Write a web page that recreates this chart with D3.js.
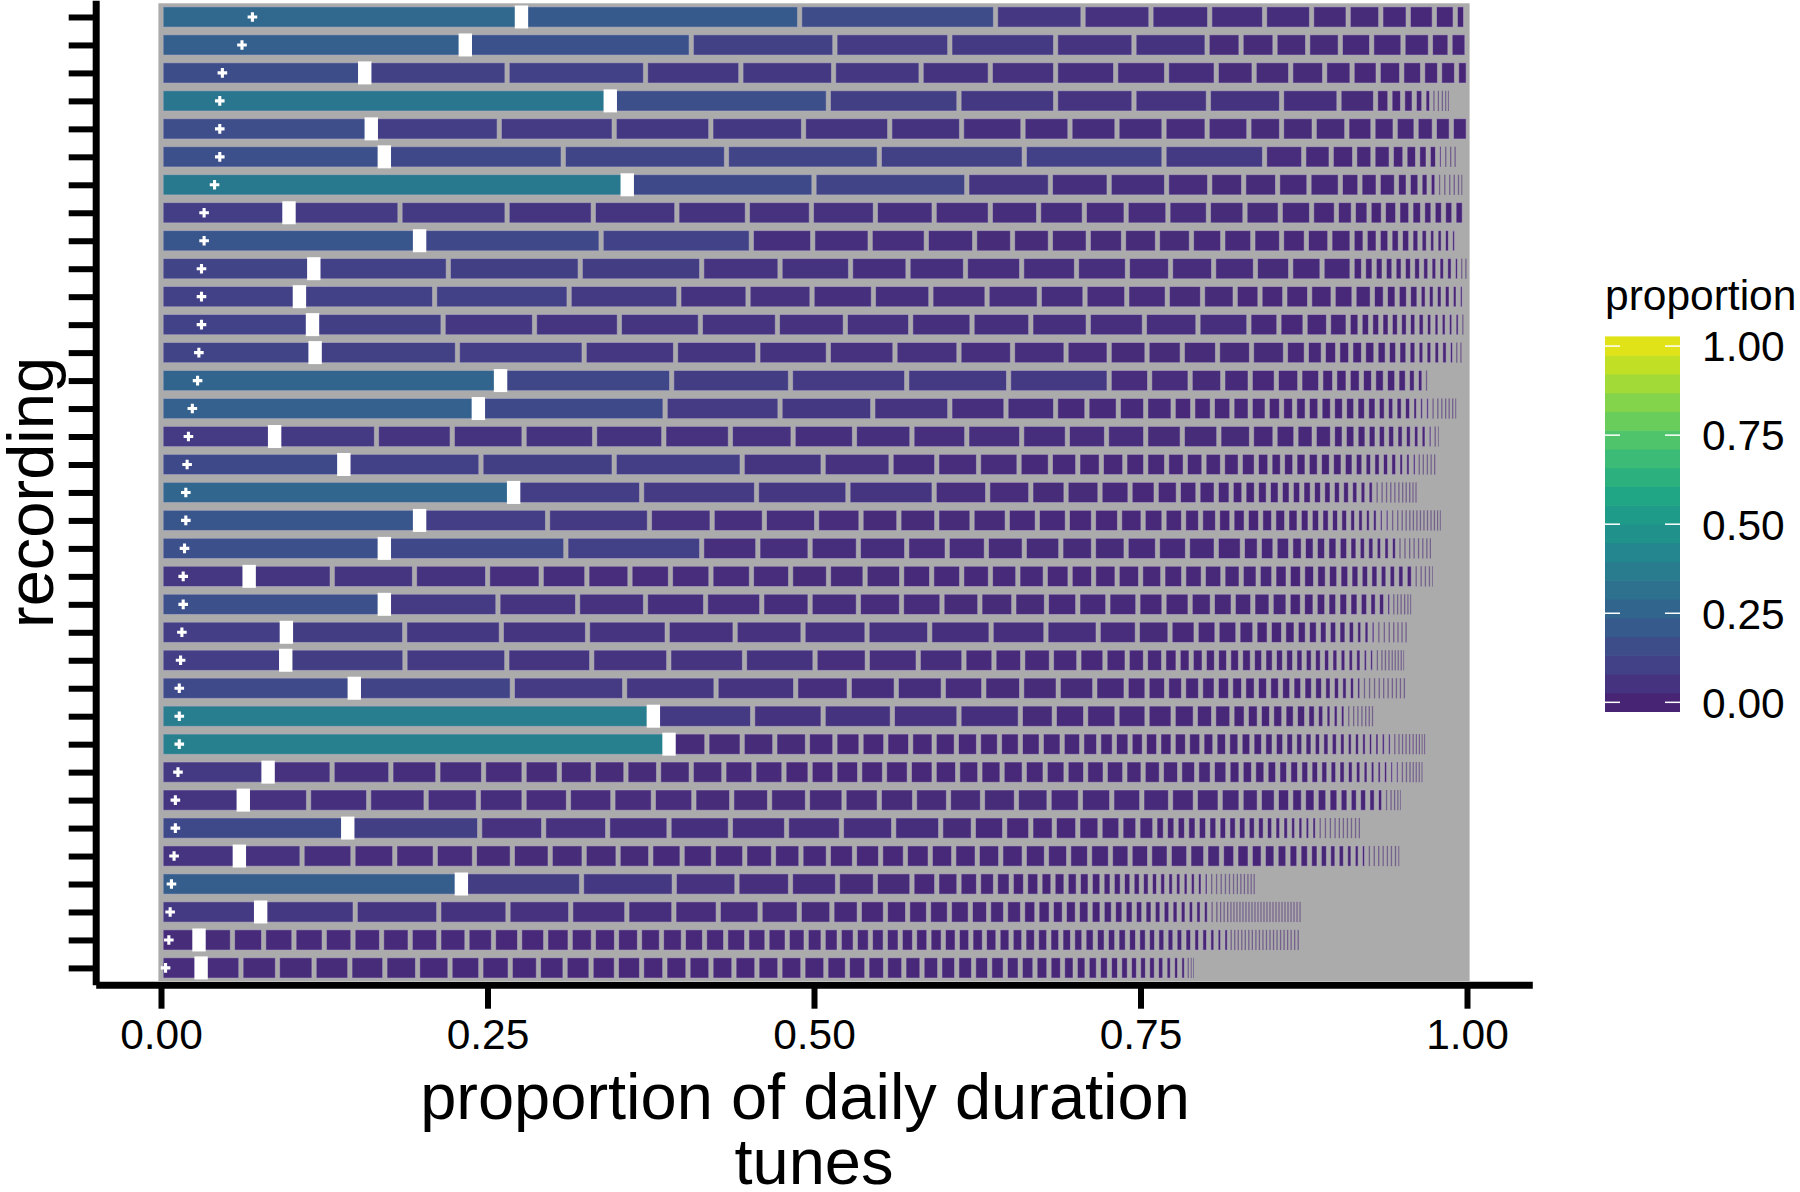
<!DOCTYPE html>
<html><head><meta charset="utf-8">
<script src="https://cdn.jsdelivr.net/npm/d3@7"></script>
<style>
body{margin:0;background:#fff;}
svg{display:block;font-family:"Liberation Sans",Arial,Helvetica,sans-serif;}
</style>
</head><body>
<svg id="chart" width="1800" height="1192"></svg>
<script>
// ---------- data ----------
const recordings = d3.range(1, 36).map(i => "rec" + String(i).padStart(2, "0"));

const r01 = [.276,.213,.150,.067,.052,.045,.042,.036,.028,.025,.021,.020,.016,.008];
const r02 = [.233,.173,.110,.088,.081,.060,.056,.026,.026,.025,.025,.024,.024,.021,.015,.013];
const r03 = [.156,.109,.106,.073,.071,.067,.053,.050,.046,.039,.038,.029,.028,.026,.021,.020,.018,.016,.013,.013,.009];
const r04 = [.344,.167,.100,.074,.060,.057,.056,.044,.028,.011,.0097,.0089,.0074,.006,.0034,.0034,.0027,.0023,.0019];
const r05 = [.161,.098,.088,.074,.071,.066,.055,.047,.036,.036,.036,.033,.032,.025,.025,.025,.020,.017,.016,.014,.013,.013];
const r06 = [.171,.137,.125,.117,.111,.107,.077,.030,.021,.018,.014,.014,.0105,.0097,.0081,.0072,.0043,.0038,.0038,.003];
const r07 = [.357,.143,.117,.064,.045,.044,.033,.026,.026,.024,.024,.015,.014,.014,.009,.009,.007,.006,.004,.004,.0035,.0035,.003,.002];
const r08 = [.098,.085,.082,.066,.064,.054,.049,.049,.045,.043,.037,.035,.032,.032,.031,.028,.027,.024,.019,.013,.012,.011,.011,.010,.009,.008,.008,.008,.008];
const r09 = [.198,.139,.115,.047,.044,.043,.037,.029,.029,.029,.027,.026,.026,.024,.023,.022,.019,.018,.017,.010,.010,.009,.008,.008,.007,.0065,.0057,.0057,.0055,.0047];
const r10 = [.117,.103,.101,.093,.060,.054,.044,.044,.043,.042,.039,.033,.033,.032,.027,.024,.023,.0088,.0081,.0077,.0075,.0071,.0071,.0069,.0064,.0061,.0059,.0059,.0048,.0033,.0031];
const r11 = [.106,.1035,.103,.084,.053,.049,.047,.044,.043,.040,.035,.032,.031,.027,.025,.019,.019,.019,.018,.016,.014,.010,.009,.0087,.0081,.0063,.0061,.0061,.0061,.0054,.0046];
const r12 = [.116,.100,.070,.065,.062,.059,.052,.050,.047,.045,.044,.043,.041,.039,.023,.020,.018,.015,.0091,.0081,.0078,.0072,.0071,.0068,.0066,.0064,.0058,.0055,.0055,.0051,.0049,.0038];
const r13 = [.118,.109,.097,.070,.063,.054,.051,.049,.041,.041,.033,.029,.027,.027,.026,.026,.016,.013,.011,.010,.0098,.0095,.0087,.008,.0078,.0069,.0061,.0061,.0059,.0059,.0048,.0033,.0031];
const r14 = [.260,.131,.091,.089,.078,.077,.031,.031,.025,.021,.020,.018,.016,.0107,.0103,.0101,.0094,.009,.0088,.0081,.0068,.0059,.0038];
const r15 = [.243,.143,.088,.071,.059,.043,.038,.024,.024,.021,.021,.015,.015,.015,.014,.013,.011,.010,.0097,.0097,.0096,.0092,.0087,.0082,.0081,.0071,.0065,.0065,.0064,.0052,.0046,.0045,.0041,.0031,.0031,.0027,.0027,.0027,.0019];
const r16 = [.087,.078,.058,.055,.054,.053,.051,.048,.047,.044,.042,.042,.035,.030,.030,.028,.028,.025,.018,.016,.014,.014,.009,.009,.0085,.0077,.0072,.0071,.0065,.0062,.0058,.0055,.0045,.0033,.0015];
const r17 = [.140,.105,.102,.098,.062,.052,.035,.032,.031,.024,.021,.018,.018,.016,.016,.0143,.0143,.0142,.0136,.0123,.0104,.0096,.0095,.0094,.0094,.0092,.009,.0084,.0075,.0067,.0066,.0064,.0062,.0052,.0051,.0046,.0031,.0031,.0031,.0027,.0027];
const r18 = [.270,.098,.088,.070,.066,.041,.033,.027,.026,.023,.020,.017,.015,.014,.0114,.0098,.0096,.0091,.0091,.0084,.0081,.0081,.0078,.0074,.0071,.0069,.0065,.0061,.0057,.0042,.0034,.0034,.0031,.0031,.0031,.0027,.0027,.0027,.0023,.0023];
const r19 = [.198,.098,.078,.048,.040,.040,.034,.029,.029,.027,.027,.023,.023,.020,.020,.018,.016,.015,.013,.013,.011,.011,.011,.010,.010,.0095,.0084,.0081,.0074,.0071,.0069,.0061,.0059,.0054,.0053,.0045,.0045,.0039,.0039,.003,.003,.0027,.0027,.0027,.0027,.0027,.0027,.0027,.0025,.0023,.0019];
const r20 = [.171,.139,.104,.043,.040,.037,.037,.031,.030,.029,.028,.025,.025,.024,.023,.022,.020,.013,.012,.012,.0097,.0091,.0088,.0087,.0082,.0071,.0065,.0065,.0059,.0058,.0055,.0038,.0038,.0034,.0034,.0034,.0031,.0031,.0023];
const r21 = [.0675,.0636,.063,.056,.041,.035,.033,.031,.031,.031,.030,.029,.028,.028,.023,.023,.022,.021,.021,.019,.018,.018,.018,.017,.016,.015,.015,.014,.013,.012,.011,.011,.010,.009,.0088,.0084,.0078,.0074,.0072,.0068,.0066,.0065,.0064,.0042,.0034,.0031,.0031,.0015];
const r22 = [.171,.087,.061,.052,.046,.043,.037,.037,.033,.031,.029,.026,.025,.024,.023,.023,.020,.020,.017,.016,.015,.014,.013,.011,.0097,.009,.0084,.0084,.0079,.0074,.0066,.0064,.0046,.0031,.0027,.0027,.0027,.0023,.0019];
const r23 = [.096,.0906,.074,.066,.061,.052,.052,.049,.048,.047,.042,.040,.030,.025,.020,.016,.016,.013,.011,.011,.0096,.0086,.0084,.0075,.0074,.0071,.0065,.0056,.0055,.0046,.0042,.0042,.0034,.0034,.0031,.0031,.0031];
const r24 = [.0955,.0913,.078,.065,.059,.058,.054,.040,.039,.035,.023,.022,.022,.021,.020,.017,.014,.014,.011,.010,.010,.0094,.0093,.0091,.0091,.0087,.0081,.0078,.0078,.0072,.0071,.0069,.0064,.0063,.0061,.0058,.0058,.0049,.0047,.0042,.0027,.0027,.0027,.0023,.0023,.0023,.0023,.0015];
const r25 = [.148,.121,.086,.070,.061,.041,.036,.036,.031,.029,.028,.028,.024,.016,.015,.013,.013,.012,.011,.010,.0097,.0094,.0091,.0087,.0084,.0082,.0077,.0066,.0064,.0059,.0056,.0048,.004,.0038,.0038,.0034,.0034,.0034,.0031,.0031,.0031,.0029];
const r26 = [.377,.076,.054,.053,.051,.047,.026,.024,.024,.023,.020,.017,.014,.014,.011,.010,.0094,.0094,.0088,.0087,.0074,.0065,.0055,.0055,.0052,.0041,.0034,.0031,.0031,.0027,.0027,.0023];
const r27 = [.389,.029,.027,.025,.025,.021,.020,.019,.019,.018,.017,.017,.016,.016,.016,.016,.015,.013,.012,.012,.011,.011,.011,.011,.011,.010,.0097,.0095,.0091,.009,.0081,.0081,.0075,.0071,.0071,.0065,.0065,.0064,.0059,.0055,.0055,.0052,.0049,.0049,.0048,.0045,.0038,.0027,.0027,.0027,.0027,.0027,.0023,.0023,.0019,.0019];
const r28 = [.082,.049,.045,.036,.035,.031,.027,.026,.025,.025,.025,.025,.023,.023,.020,.019,.019,.019,.019,.019,.018,.017,.017,.017,.016,.016,.015,.015,.015,.014,.014,.014,.013,.012,.012,.010,.0096,.0095,.009,.0084,.0084,.0078,.0075,.0071,.0068,.0065,.0061,.0059,.0055,.0052,.0049,.0049,.0044,.0043,.0035,.0027,.0027,.0023,.0023,.0023,.0019];
const r29 = [.063,.050,.046,.044,.040,.035,.034,.034,.031,.031,.029,.029,.029,.028,.027,.027,.026,.026,.026,.025,.024,.024,.023,.022,.019,.019,.016,.014,.013,.011,.0098,.0097,.009,.0085,.0077,.0072,.0071,.0066,.0057,.0042,.0027,.0027,.0023,.0015];
const r30 = [.143,.101,.049,.049,.047,.047,.043,.042,.040,.036,.025,.024,.020,.018,.018,.017,.016,.013,.013,.0081,.0081,.0081,.0081,.0081,.0078,.0075,.0074,.0074,.0072,.0068,.0065,.0061,.0059,.0056,.0055,.0052,.0051,.0042,.0038,.0038,.0034,.0031,.0031,.0031,.0031,.0031,.0027];
const r31 = [.060,.048,.039,.032,.031,.030,.029,.029,.026,.026,.025,.024,.024,.024,.022,.021,.021,.020,.020,.019,.019,.018,.018,.018,.018,.017,.017,.016,.016,.015,.015,.015,.015,.013,.012,.011,.011,.010,.0098,.0091,.0084,.0081,.0074,.0072,.0065,.0065,.0058,.0055,.0049,.0041,.0034,.0034,.0034,.0031,.0031,.0031,.0019];
const r32 = [.230,.092,.071,.048,.041,.036,.029,.028,.019,.017,.015,.013,.012,.011,.011,.010,.010,.0094,.0091,.009,.0078,.0078,.0074,.0072,.0068,.0064,.0062,.0059,.0058,.0055,.0055,.0052,.0046,.0038,.0037,.0034,.0031,.0031,.0031,.0027,.0027,.0027,.0027,.0023,.0023];
const r33 = [.0763,.0724,.064,.053,.048,.043,.036,.034,.032,.030,.025,.021,.020,.017,.016,.016,.016,.014,.013,.013,.011,.011,.010,.010,.0097,.0092,.0087,.0081,.0078,.0074,.0071,.0068,.0068,.0063,.0061,.0058,.0058,.0055,.0041,.0031,.0027,.0027,.0027,.0023,.0023,.0023,.0023,.0023,.0023,.0023,.0023,.0023,.0023,.0023,.0023,.0023,.0023,.0023,.0023,.0023,.0023,.0023,.0023,.0023,.0023,.0023,.0023];
const r34 = [.0291,.0256,.0239,.0232,.0232,.022,.0219,.0219,.0219,.0216,.0203,.020,.020,.0187,.0178,.0177,.0176,.0168,.0168,.0162,.0162,.0161,.0155,.0155,.0145,.013,.0123,.0123,.0116,.0114,.0114,.011,.011,.011,.0107,.0104,.0104,.0104,.010,.0098,.0097,.0094,.0092,.009,.0087,.0087,.0084,.0081,.0081,.0078,.0075,.0071,.0071,.0069,.0068,.0068,.0061,.0061,.0056,.0052,.0051,.0027,.0027,.0027,.0027,.0027,.0027,.0027,.0027,.0027,.0027,.0027,.0027,.0027,.0027,.0027,.0027,.0027,.0027,.0027,.0027];
const r35 = [.0307,.0305,.028,.028,.0274,.0268,.0251,.0248,.0236,.0225,.0216,.0204,.0199,.0194,.0193,.0178,.0177,.0176,.0176,.0176,.0176,.0176,.0176,.0165,.0149,.0143,.014,.0139,.0136,.013,.0129,.0123,.012,.0114,.0113,.0107,.0104,.0097,.0091,.0087,.0084,.0078,.0075,.007,.0069,.0068,.0065,.0058,.0055,.0052,.0027,.0019,.0015];

const tuneRows = [r01,r02,r03,r04,r05,r06,r07,r08,r09,r10,r11,r12,r13,r14,r15,r16,r17,r18,r19,r20,
                  r21,r22,r23,r24,r25,r26,r27,r28,r29,r30,r31,r32,r33,r34,r35];

// mean tune proportion per recording (the "+" marks)
const meanMarks = [.070,.062,.047,.045,.045,.045,.041,.033,.033,.031,.031,.031,.029,.028,.024,.021,.020,.019,
                   .019,.018,.017,.017,.016,.015,.014,.014,.014,.013,.011,.011,.010,.008,.007,.006,.0035];

const xTicks = [0, 0.25, 0.5, 0.75, 1];
const legendTicks = [0, 0.25, 0.5, 0.75, 1];
const legendBins = d3.range(20).map(i => i / 19);

// ---------- drawing ----------
const svg = d3.select("#chart");
const fillColor = v => d3.interpolateViridis(0.1 + 0.85 * v);

const x = d3.scaleLinear().domain([-0.05, 1.05]).range([95.7, 1532.3]);
const y = d3.scalePoint().domain(recordings).range([0.2, 984.7]).padding(0.6);
const step = y.step();

// grey background behind bars
svg.append("rect")
  .attr("x", x(0) - 2.6).attr("width", x(1) - x(0) + 5.2)
  .attr("y", y(recordings[0]) - step / 2 + 0.3)
  .attr("height", y(recordings[recordings.length - 1]) - y(recordings[0]) + step - 1.2)
  .attr("fill", "#ababab");

const barH = 20.2;
const gBars = svg.append("g");
tuneRows.forEach((vals, i) => {
  const cy = y(recordings[i]);
  let cum = 0;
  const segs = vals.map(v => { const s = {v, a: cum, b: cum + v}; cum += v; return s; });
  const g = gBars.append("g");
  segs.forEach(s => {
    const x0 = x(s.a), x1 = x(s.b), w = x1 - x0;
    let iw = w - 4.4;
    let op = 1;
    if (iw < 1.1) { iw = Math.max(0.8, Math.min(1.3, w * 0.4)); op = 0.55; }
    const cx = (x0 + x1) / 2;
    g.append("rect")
      .attr("x", cx - iw / 2).attr("width", iw)
      .attr("y", cy - barH / 2).attr("height", barH)
      .attr("fill", fillColor(s.v))
      .attr("fill-opacity", op)
      .attr("stroke", op < 1 ? "none" : "#b9b3c9")
      .attr("stroke-opacity", 0.55)
      .attr("stroke-width", 0.9);
  });
  // white marker at the end of the top tune
  const xb = x(segs[0].b);
  g.append("rect")
    .attr("x", xb - 6.7).attr("width", 13.4)
    .attr("y", cy - 11.5).attr("height", 23)
    .attr("fill", "#ffffff");
  // "+" at the mean tune proportion
  const mx = x(meanMarks[i]);
  g.append("path")
    .attr("d", `M${mx - 4.8},${cy}H${mx + 4.8}M${mx},${cy - 4.8}V${cy + 4.8}`)
    .attr("stroke", "#ffffff").attr("stroke-width", 3.1).attr("fill", "none");
});

// axes
const axisW = 7;
const xAxis = d3.axisBottom(x).tickValues(xTicks).tickFormat(d3.format(".2f"))
  .tickSize(24).tickSizeOuter(0).tickPadding(10);
const gx = svg.append("g").attr("transform", `translate(0,${y.range()[1]})`).call(xAxis);
gx.select(".domain").attr("stroke", "#000").attr("stroke-width", axisW);
gx.selectAll(".tick line").attr("stroke", "#000").attr("stroke-width", 6);
gx.selectAll(".tick text").attr("fill", "#000").attr("font-size", 42.5)
  .attr("font-family", "Liberation Sans, Arial, sans-serif");

const yAxis = d3.axisLeft(y).tickSize(27).tickSizeOuter(0).tickFormat("");
const gy = svg.append("g").attr("transform", `translate(${x.range()[0]},0)`).call(yAxis);
gy.select(".domain").attr("stroke", "#000").attr("stroke-width", axisW);
gy.selectAll(".tick line").attr("stroke", "#000").attr("stroke-width", 6);

// axis titles (two-line x title as one text element)
const midX = (x.range()[0] + x.range()[1]) / 2;
const xt = svg.append("text").attr("text-anchor", "middle").attr("font-size", 65).attr("fill", "#000");
xt.append("tspan").attr("x", midX - 9).attr("y", 1119).text("proportion of daily duration");
xt.append("tspan").attr("x", midX).attr("y", 1184).text("tunes");
const midY = (y.range()[0] + y.range()[1]) / 2;
svg.append("text").attr("transform", `translate(53,${midY}) rotate(-90)`)
  .attr("text-anchor", "middle").attr("font-size", 65).attr("fill", "#000").text("recording");

// legend
const lg = svg.append("g");
const lx = 1605, lw = 75, binH = 18.75, lBottom = 711.7;
const ly = d3.scaleLinear().domain([0, 1]).range([lBottom - binH / 2, lBottom - binH * 19.5]);
lg.selectAll("rect.bin").data(legendBins).join("rect")
  .attr("x", lx).attr("width", lw)
  .attr("y", d => ly(d) - binH / 2 - 0.3).attr("height", binH + 0.6)
  .attr("fill", d => fillColor(d));
legendTicks.forEach(t => {
  lg.append("line").attr("x1", lx).attr("x2", lx + 15).attr("y1", ly(t)).attr("y2", ly(t))
    .attr("stroke", "#fff").attr("stroke-width", 1.5);
  lg.append("line").attr("x1", lx + lw - 15).attr("x2", lx + lw).attr("y1", ly(t)).attr("y2", ly(t))
    .attr("stroke", "#fff").attr("stroke-width", 1.5);
  lg.append("text").attr("x", 1702).attr("y", ly(t)).attr("dy", "0.36em")
    .attr("font-size", 42.5).attr("fill", "#000").text(d3.format(".2f")(t));
});
lg.append("text").attr("x", lx).attr("y", 310).attr("font-size", 42.5).attr("fill", "#000").text("proportion");
</script>
</body></html>
